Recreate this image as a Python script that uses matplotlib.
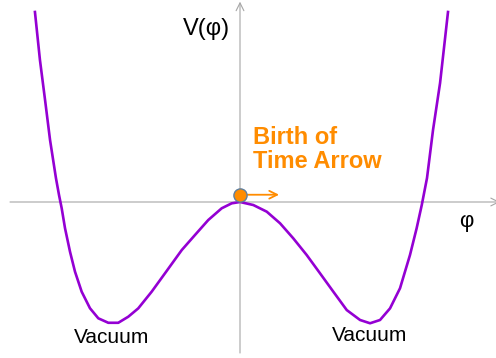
import matplotlib.pyplot as plt

plt.rcParams["font.family"] = ["Liberation Sans", "DejaVu Sans"]

# potential (phi, V), minima at phi = +-1, V = -1
phi_left = [-1.602, -1.563, -1.523, -1.484, -1.438, -1.414, -1.393, -1.367,
            -1.328, -1.289, -1.237, -1.172, -1.107, -1.029, -0.951, -0.873,
            -0.795, -0.690, -0.586, -0.455, -0.352, -0.248, -0.143, -0.065,
            0.0]
v_left = [1.570, 1.174, 0.843, 0.512, 0.198, 0.058, -0.052, -0.217,
          -0.411, -0.576, -0.741, -0.878, -0.961, -0.998, -0.998, -0.948,
          -0.879, -0.741, -0.589, -0.397, -0.273, -0.149, -0.052, -0.011,
          0.0]
phi_right = [0.104, 0.209, 0.313, 0.416, 0.521, 0.625, 0.729, 0.834,
             0.938, 1.016, 1.094, 1.172, 1.250, 1.328, 1.380, 1.420,
             1.461, 1.508, 1.563, 1.625]
v_right = [-0.025, -0.080, -0.176, -0.300, -0.438, -0.589, -0.741, -0.893,
           -0.975, -1.002, -0.975, -0.879, -0.713, -0.438, -0.217, -0.025,
           0.198, 0.595, 0.983, 1.570]

phi = phi_left + phi_right
v = v_left + v_right

ball_phi, ball_v = 0.0, 0.06

fig = plt.figure(figsize=(4.96, 3.58), dpi=100)
ax = fig.add_axes([0, 0, 1, 1])
ax.set_xlim(-1.875, 2.0)
ax.set_ylim(-1.289, 1.669)
ax.axis("off")

axis_color = "#a6a6a6"
# horizontal and vertical axes with open arrow heads
ax.annotate("", xy=(2.03, 0), xytext=(-1.797, 0), annotation_clip=False,
            arrowprops=dict(arrowstyle="->", color=axis_color, lw=0.8,
                            shrinkA=0, shrinkB=0, mutation_scale=14))
ax.annotate("", xy=(0, 1.655), xytext=(0, -1.248), annotation_clip=False,
            arrowprops=dict(arrowstyle="->", color=axis_color, lw=0.8,
                            shrinkA=0, shrinkB=0, mutation_scale=14))

ax.plot(phi, v, color="#9400d3", lw=1.9, solid_joinstyle="round", zorder=3)

# ball on top of the hill and its kick
ax.annotate("", xy=(0.305, ball_v), xytext=(0.06, ball_v),
            arrowprops=dict(arrowstyle="->", color="#ff8c00", lw=1.3,
                            shrinkA=0, shrinkB=0, mutation_scale=14), zorder=4)
ax.plot([ball_phi], [ball_v], "o", ms=9.5, color="#ff8c00",
        markeredgecolor="#5f7f9f", markeredgewidth=1.0, zorder=5)

ax.text(-0.26, 1.43, "V(φ)", fontsize=17, ha="center", va="center")
ax.text(1.765, -0.165, "φ", fontsize=16, ha="center", va="center")
ax.text(-1.0, -1.12, "Vacuum", fontsize=15, ha="center", va="center")
ax.text(1.016, -1.105, "Vacuum", fontsize=15, ha="center", va="center")
ax.text(0.10, 0.24, "Birth of\nTime Arrow", fontsize=17, fontweight="bold",
        color="#ff8c00", ha="left", va="bottom", linespacing=1.05)

fig.savefig("out.png", dpi=100)
